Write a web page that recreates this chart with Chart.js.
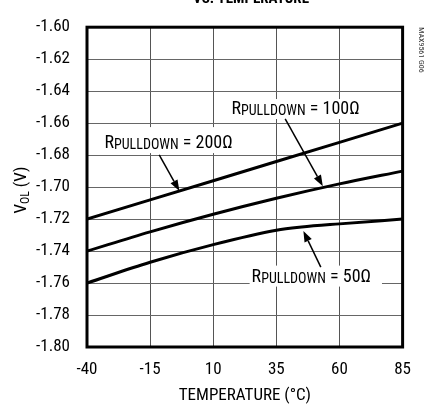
<!DOCTYPE html>
<html>
<head>
<meta charset="utf-8">
<script src="https://cdn.jsdelivr.net/npm/chart.js@4"></script>
<style>html,body{margin:0;padding:0;background:#fff;}canvas{display:block;}</style>
</head>
<body>
<canvas id="c" width="424" height="406"></canvas>
<script>
const temps = [-40, -15, 10, 35, 60, 85];
const vol200 = [-1.720, -1.708, -1.696, -1.684, -1.672, -1.660];
const vol100 = [-1.740, -1.728, -1.717, -1.707, -1.698, -1.690];
const vol50temps = [-40, -15, 10, 35, 45, 60, 85];
const vol50 = [-1.760, -1.747, -1.736, -1.727, -1.725, -1.723, -1.720];
const xTicks = [-40, -15, 10, 35, 60, 85];
const yTickLabels = ['-1.80','-1.78','-1.76','-1.74','-1.72','-1.70','-1.68','-1.66','-1.64','-1.62','-1.60'];

const FONT = "'Liberation Sans Narrow', 'Arial Narrow', 'Roboto Condensed', 'Liberation Sans', sans-serif";

const annotations = [
  {res: '100Ω', tx: 17.2, ty: -1.6543, box: [-3, -15, 4, 5], ax1: 38.5, ay1: -1.6573, ax2: 53.4, ay2: -1.6994},
  {res: '200Ω', tx: -33.1, ty: -1.6756, box: [-3, -21, 4, 5], ax1: -11.4, ay1: -1.6799, ax2: -3.4, ay2: -1.7024},
  {res: '50Ω', tx: 25.2, ty: -1.7591, box: [-2, -16, 11, 5], ax1: 52.6, ay1: -1.7500, ax2: 45.7, ay2: -1.7274}
];

function mk(xs, ys) { return xs.map((x, i) => ({x: x, y: ys[i]})); }

function arrow(ctx, x1, y1, x2, y2) {
  ctx.save();
  ctx.strokeStyle = '#000'; ctx.fillStyle = '#000'; ctx.lineWidth = 1.5;
  const ang = Math.atan2(y2 - y1, x2 - x1);
  const L = 11, W = 4;
  const bx = x2 - L * Math.cos(ang), by = y2 - L * Math.sin(ang);
  ctx.beginPath(); ctx.moveTo(x1, y1); ctx.lineTo(bx, by); ctx.stroke();
  ctx.beginPath();
  ctx.moveTo(x2, y2);
  ctx.lineTo(bx + W * Math.sin(ang), by - W * Math.cos(ang));
  ctx.lineTo(bx - W * Math.sin(ang), by + W * Math.cos(ang));
  ctx.closePath(); ctx.fill();
  ctx.restore();
}

const decor = {
  id: 'decor',
  afterDatasetsDraw(chart) {
    const ctx = chart.ctx, xs = chart.scales.x, ys = chart.scales.y;
    annotations.forEach(an => {
      const x = xs.getPixelForValue(an.tx), y = ys.getPixelForValue(an.ty);
      ctx.save();
      ctx.textBaseline = 'alphabetic';
      ctx.font = '18px ' + FONT;
      const wR = ctx.measureText('R').width;
      ctx.font = '14px ' + FONT;
      const wS = ctx.measureText('PULLDOWN').width;
      ctx.font = '18px ' + FONT;
      const rest = ' = ' + an.res;
      const wRest = ctx.measureText(rest).width;
      const w = wR + wS + wRest;
      ctx.fillStyle = '#fff';
      ctx.fillRect(x + an.box[0], y + an.box[1], w - an.box[0] + an.box[2], -an.box[1] + an.box[3]);
      ctx.fillStyle = '#000';
      ctx.fillText('R', x, y);
      ctx.font = '14px ' + FONT;
      ctx.fillText('PULLDOWN', x + wR, y + 1);
      ctx.font = '18px ' + FONT;
      ctx.fillText(rest, x + wR + wS, y);
      ctx.restore();
      arrow(ctx, xs.getPixelForValue(an.ax1), ys.getPixelForValue(an.ay1), xs.getPixelForValue(an.ax2), ys.getPixelForValue(an.ay2));
    });
  },
  afterDraw(chart) {
    const ctx = chart.ctx, a = chart.chartArea;
    ctx.save();
    ctx.strokeStyle = '#000'; ctx.lineWidth = 3;
    ctx.strokeRect(a.left, a.top, a.right - a.left, a.bottom - a.top);
    ctx.fillStyle = '#000';
    ctx.font = 'bold 15px ' + FONT;
    ctx.textAlign = 'center'; ctx.textBaseline = 'alphabetic';
    ctx.fillText('VS. TEMPERATURE', 251, 3);
    ctx.font = '17px ' + FONT;
    ctx.textBaseline = 'middle';
    ctx.fillText('TEMPERATURE (°C)', (a.left + a.right) / 2, 396);
    ctx.save();
    ctx.translate(20, (a.top + a.bottom) / 2 + 3);
    ctx.rotate(-Math.PI / 2);
    ctx.textAlign = 'left'; ctx.textBaseline = 'alphabetic';
    const p1 = 'V', p2 = 'OL', p3 = ' (V)';
    ctx.font = '17px ' + FONT;
    const w1 = ctx.measureText(p1).width, w3 = ctx.measureText(p3).width;
    ctx.font = '12px ' + FONT;
    const w2 = ctx.measureText(p2).width;
    let sx = -(w1 + w2 + w3) / 2;
    ctx.font = '17px ' + FONT;
    ctx.fillText(p1, sx, 6);
    ctx.font = '12px ' + FONT;
    ctx.fillText(p2, sx + w1, 9);
    ctx.font = '17px ' + FONT;
    ctx.fillText(p3, sx + w1 + w2, 6);
    ctx.restore();
    ctx.save();
    ctx.translate(421, 50);
    ctx.rotate(Math.PI / 2);
    ctx.font = '8px ' + FONT;
    ctx.textAlign = 'center'; ctx.textBaseline = 'middle';
    ctx.fillStyle = '#333';
    ctx.fillText('MAX9561 G06', 0, 0);
    ctx.restore();
    ctx.restore();
  }
};

const lineStyle = {borderColor: '#000', borderWidth: 3, pointRadius: 0, fill: false};

new Chart(document.getElementById('c'), {
  type: 'line',
  data: {
    datasets: [
      Object.assign({label: 'RPULLDOWN = 200Ω', data: mk(temps, vol200), tension: 0}, lineStyle),
      Object.assign({label: 'RPULLDOWN = 100Ω', data: mk(temps, vol100), cubicInterpolationMode: 'monotone'}, lineStyle),
      Object.assign({label: 'RPULLDOWN = 50Ω', data: mk(vol50temps, vol50), cubicInterpolationMode: 'monotone'}, lineStyle)
    ]
  },
  options: {
    responsive: false,
    animation: false,
    devicePixelRatio: 1,
    layout: {padding: {top: 19, right: 9, left: 0, bottom: 0}},
    plugins: {legend: {display: false}, tooltip: {enabled: false}, title: {display: false}},
    scales: {
      x: {
        type: 'linear', min: -40, max: 85,
        afterBuildTicks: s => { s.ticks = xTicks.map(v => ({value: v})); },
        afterFit: s => { s.height = 59; },
        ticks: {color: '#000', font: {family: FONT, size: 17}, padding: 13, maxRotation: 0, autoSkip: false},
        grid: {color: '#555', lineWidth: 1, drawTicks: false},
        border: {display: false}
      },
      y: {
        type: 'linear', min: -1.80, max: -1.60,
        afterBuildTicks: s => { s.ticks = yTickLabels.map(v => ({value: parseFloat(v)})); },
        afterFit: s => { s.width = 87; },
        ticks: {color: '#000', font: {family: FONT, size: 17}, padding: 17, autoSkip: false,
          callback: (v) => { const t = yTickLabels.find(l => Math.abs(parseFloat(l) - v) < 1e-6); return t || v.toFixed(2); }},
        grid: {color: '#666', lineWidth: 1, drawTicks: false},
        border: {display: false}
      }
    }
  },
  plugins: [decor]
});
</script>
</body>
</html>
